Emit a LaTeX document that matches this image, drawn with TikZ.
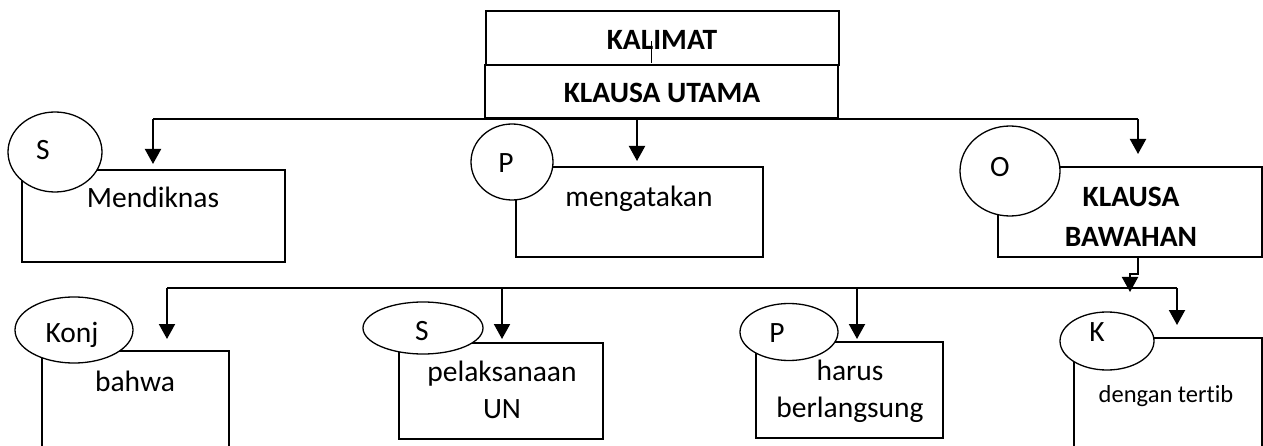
\documentclass[tikz,border=0pt]{standalone}
\usepackage{fontspec}
\setmainfont[Ligatures={NoCommon}]{Carlito}
\usepackage{tikz}
\usetikzlibrary{positioning, arrows.meta, calc, shapes.geometric}

\tikzset{
  box/.style={draw, line width=2pt, rectangle, inner sep=0pt},
  oval/.style={draw, line width=1.3pt, ellipse, fill=white, inner sep=0pt},
  word/.style={anchor=base, inner sep=0pt, align=center, font=\fontsize{29.5}{36.5}\selectfont},
  bold/.style={word, font=\fontsize{29.5}{40}\selectfont\bfseries},
  link/.style={line width=2pt},
  arr/.style={line width=2pt, -{Triangle[length=15pt,width=16pt]}}
}

\begin{document}
\begin{tikzpicture}[x=1pt, y=-1pt]
  \fill[white] (0,0) rectangle (1263,446);
  \useasboundingbox (0,0) rectangle (1263,446);

  % kalimat / klausa utama
  \node[box, minimum width=353pt, minimum height=54pt] (kalimat) at (662.5,38) {};
  \node[box, minimum width=353pt, minimum height=53pt] (utama) at (661.5,91.5) {};
  \node[bold] (t-kalimat) at (662,50) {KALIMAT};
  \node[bold] (t-utama) at (662,103) {KLAUSA UTAMA};
  \draw[line width=1.3pt] ($(kalimat.south)+(-10.8,-3)$) -- ($(kalimat.south)+(-10.8,-25)$);

  % baris pertama
  \node[box, minimum width=263pt, minimum height=92pt] (mendiknas) at (153.5,216) {};
  \node[box, minimum width=247pt, minimum height=90pt] (mengatakan) at (639.5,212) {};
  \node[box, minimum width=264pt, minimum height=90pt] (bawahan) at (1130,212) {};
  \node[oval, minimum width=94pt, minimum height=80pt] (s1) at (55,152) {};
  \node[oval, minimum width=82pt, minimum height=76pt] (p1) at (512,162) {};
  \node[oval, minimum width=100pt, minimum height=90pt] (o1) at (1010,171) {};
  \node[word] (t-s1) at (43,160) {S};
  \node[word] (t-p1) at (506,173) {P};
  \node[word] (t-o1) at (1000,177) {O};
  \node[word] (t-mendiknas) at (153,208) {Mendiknas};
  \node[word] (t-mengatakan) at (639,207) {mengatakan};
  \node[bold] (t-bawahan) at (1131,247) {KLAUSA\\BAWAHAN};

  % baris kedua
  \node[box, minimum width=187pt, minimum height=109pt] (bahwa) at (135.5,405.5) {};
  \node[box, minimum width=204pt, minimum height=96pt] (pelaksanaan) at (501,391) {};
  \node[box, minimum width=187pt, minimum height=96pt] (harus) at (849.5,390) {};
  \node[box, minimum width=188pt, minimum height=122pt] (tertib) at (1168,399) {};
  \node[oval, minimum width=118pt, minimum height=66pt] (konj) at (74,330) {};
  \node[oval, minimum width=120pt, minimum height=52pt] (s2) at (423,328) {};
  \node[oval, minimum width=98pt, minimum height=57pt] (p2) at (789,332) {};
  \node[oval, minimum width=94pt, minimum height=58pt] (k2) at (1107,341) {};
  \node[word] (t-konj) at (72,342) {Konj};
  \node[word] (t-s2) at (422,340) {S};
  \node[word] (t-p2) at (777,342) {P};
  \node[word] (t-k2) at (1097,341) {K};
  \node[word] (t-bahwa) at (135,391) {bahwa};
  \node[word] (t-pelaksanaan) at (502,418) {pelaksanaan\\UN};
  \node[word] (t-harus) at (850,417) {harus\\berlangsung};
  \node[word, font=\fontsize{24.5}{30}\selectfont] (t-tertib) at (1166,402) {dengan tertib};

  % garis klausa utama
  \coordinate (busL) at (153,119);
  \coordinate (busM) at (637,119);
  \coordinate (busR) at (1138,119);
  \draw[link] (busL) -- (busR);
  \draw[arr, shorten >=5pt] (busL) -- (busL |- mendiknas.north);
  \draw[arr, shorten >=5pt] (utama.south -| busM) -- (busM |- mengatakan.north);
  \draw[arr, shorten >=12pt] (busR) -- (busR |- bawahan.north);

  % garis klausa bawahan
  \coordinate (kink) at (1130,274);
  \draw[arr] (busR |- bawahan.south) |- (kink) -- ++(0,18);
  \coordinate (bus2L) at (167,288);
  \coordinate (bus2S) at (502,288);
  \coordinate (bus2P) at (857,288);
  \coordinate (bus2R) at (1177,288);
  \draw[link] (bus2L) -- (bus2R);
  \draw[arr, shorten >=11pt] (bus2L) -- (bus2L |- bahwa.north);
  \draw[arr, shorten >=3pt] (bus2S) -- (bus2S |- pelaksanaan.north);
  \draw[arr, shorten >=2pt] (bus2P) -- (bus2P |- harus.north);
  \draw[arr, shorten >=12pt] (bus2R) -- (bus2R |- tertib.north);
\end{tikzpicture}
\end{document}
